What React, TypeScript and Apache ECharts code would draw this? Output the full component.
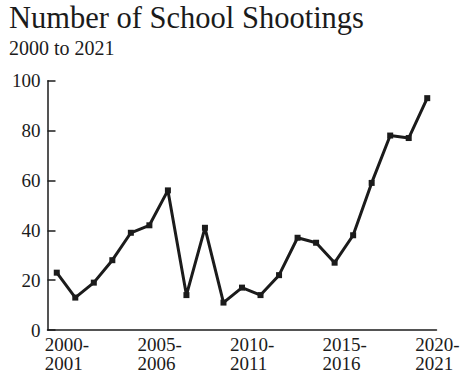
import React, { useEffect, useRef } from "react";
import * as echarts from "echarts";

const categories = [
  "2000-2001", "2001-2002", "2002-2003", "2003-2004", "2004-2005",
  "2005-2006", "2006-2007", "2007-2008", "2008-2009", "2009-2010",
  "2010-2011", "2011-2012", "2012-2013", "2013-2014", "2014-2015",
  "2015-2016", "2016-2017", "2017-2018", "2018-2019", "2019-2020",
  "2020-2021",
];
const shootings = [23, 13, 19, 28, 39, 42, 56, 14, 41, 11, 17, 14, 22, 37, 35, 27, 38, 59, 78, 77, 93];
const titleText = "Number of School Shootings";
const subtitleText = "2000 to 2021";

const FONT = "Liberation Serif";
const INK = "#1b1b1b";

export default function App() {
  const ref = useRef<HTMLDivElement>(null);
  useEffect(() => {
    if (!ref.current) return;
    const chart = echarts.init(ref.current, undefined, { renderer: "svg" });
    chart.setOption({
      animation: false,
      backgroundColor: "#ffffff",
      textStyle: { fontFamily: FONT },
      title: {
        text: titleText,
        subtext: subtitleText,
        left: 9,
        top: 2,
        padding: 0,
        itemGap: 4,
        textStyle: { fontFamily: FONT, fontSize: 30.5, lineHeight: 32, fontWeight: "normal", color: INK },
        subtextStyle: { fontFamily: FONT, fontSize: 20, lineHeight: 20, color: INK },
      },
      grid: { left: 47.5, right: 38.5, top: 80.7, bottom: 47 },
      xAxis: {
        type: "category",
        data: categories,
        boundaryGap: true,
        axisLine: { lineStyle: { color: INK, width: 1.5 } },
        axisTick: { inside: true, length: 6, lineStyle: { color: INK, width: 1.5 }, interval: 0 },
        axisLabel: {
          interval: 4,
          align: "left",
          padding: [0, 0, 0, -12],
          margin: 5,
          lineHeight: 19,
          fontFamily: FONT,
          fontSize: 19,
          color: INK,
          formatter: (v: string) => v.replace("-", "-\n"),
        },
        splitLine: { show: false },
      },
      yAxis: {
        type: "value",
        min: 0,
        max: 100,
        interval: 20,
        axisLine: { show: true, lineStyle: { color: INK, width: 1.5 } },
        axisTick: { show: true, inside: true, length: 8, lineStyle: { color: INK, width: 1.5 } },
        axisLabel: { margin: 7, fontFamily: FONT, fontSize: 19, color: INK },
        splitLine: { show: false },
      },
      series: [
        {
          type: "line",
          data: shootings,
          symbol: "rect",
          symbolSize: 6,
          itemStyle: { color: INK },
          lineStyle: { color: INK, width: 3 },
        },
      ],
    });
    return () => chart.dispose();
  }, []);
  return (
    <div
      ref={ref}
      style={{ position: "fixed", left: 0, top: 0, width: 475, height: 377, background: "#fff" }}
    />
  );
}
